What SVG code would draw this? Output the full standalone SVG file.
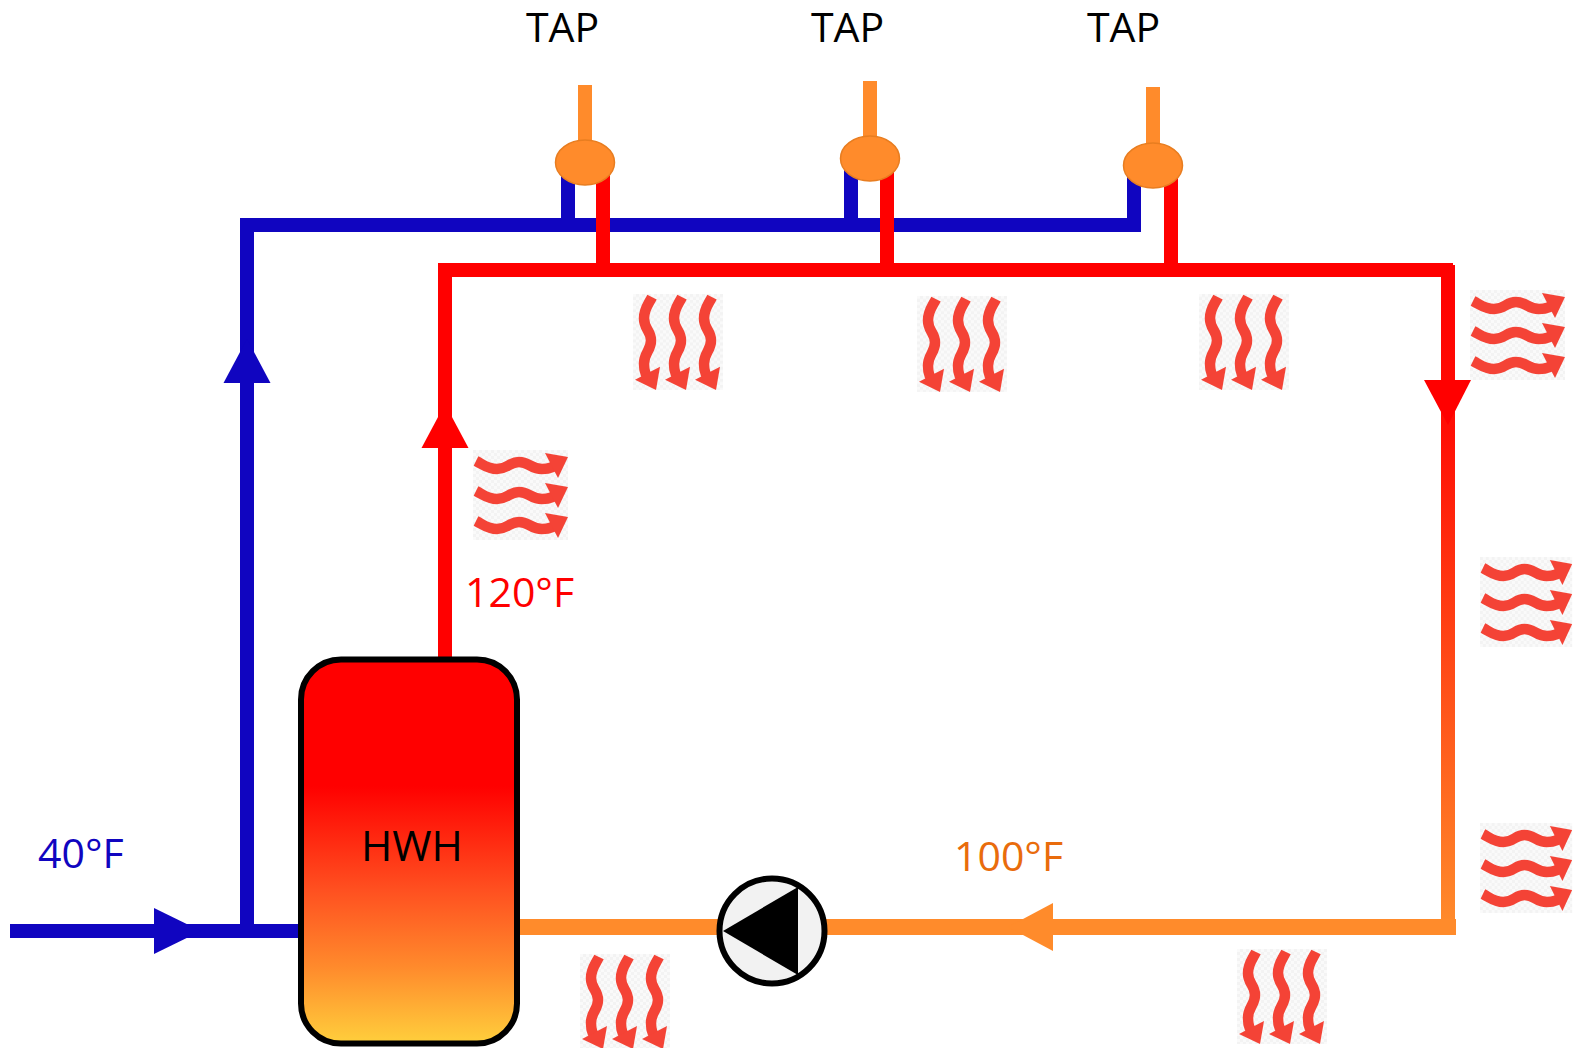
<svg xmlns="http://www.w3.org/2000/svg" width="1575" height="1048" viewBox="0 0 1575 1048">
<style>
text{font-family:"Open Sans","Noto Sans","Liberation Sans",sans-serif;font-size:41px}
.pipe{fill:none;stroke-width:14}
.blue{stroke:#1005c0}.red{stroke:#ff0000}.orange{stroke:#ff8b2b}
.valve{fill:#ff8b2b;stroke:#e87d20;stroke-width:1.5}
.bg{fill:url(#chk)}
.wave{fill:none;stroke:#f44336;stroke-width:10.500}
.head{fill:#f44336}
</style>
<defs>
<linearGradient id="tank" x1="0" y1="0" x2="0" y2="1">
<stop offset="0" stop-color="#ff0000"/><stop offset=".33" stop-color="#ff0000"/><stop offset=".6" stop-color="#ff5020"/><stop offset=".8" stop-color="#ff8a2c"/><stop offset="1" stop-color="#ffcf3c"/>
</linearGradient>
<linearGradient id="riser" gradientUnits="userSpaceOnUse" x1="0" y1="265" x2="0" y2="925">
<stop offset="0" stop-color="#ff0000"/><stop offset=".25" stop-color="#ff0f05"/><stop offset="1" stop-color="#ff8b2b"/>
</linearGradient>
<pattern id="chk" width="6" height="6" patternUnits="userSpaceOnUse">
<rect width="6" height="6" fill="#fafafa"/><rect width="3" height="3" fill="#f3f3f3"/><rect x="3" y="3" width="3" height="3" fill="#f3f3f3"/>
</pattern>
<g id="r"><path class="wave" d="M3 11C11 15 15 19 24 19C35 19 36 12 46 12C56 12 58 19 69 19C76 19 81 18 84 13"/><path class="head" d="M72 3L95 7L85 28Z"/></g>
<g id="heat"><rect class="bg" width="95" height="90"/><use href="#r"/><use href="#r" y="30"/><use href="#r" y="60"/></g>
</defs>

<g id="connectors">
<path class="pipe blue" d="M10 931H300"/>
<path class="pipe blue" d="M247 931V225H1134V175"/>
<path class="pipe blue" d="M568 225V175M851 225V170"/>
<path class="pipe red" d="M445 660V270H1453"/>
<path class="pipe red" d="M603 270V175M887 270V170M1171 270V178"/>
<path d="M1441 265H1455V925H1441Z" fill="url(#riser)"/>
<path d="M519 919H1456V935H519Z" fill="#ff8b2b"/>
<path class="pipe orange" d="M585 85V145M870 81V140M1153 87V148"/>
<path d="M247 339L270.500 383H223.500Z" fill="#1005c0"/>
<path d="M201 931L154 908V954Z" fill="#1005c0"/>
<path d="M445 404L468.500 448H421.500Z" fill="#ff0000"/>
<path d="M1448 425L1424 380H1471Z" fill="#ff0000"/>
<path d="M1008 927L1053 903V951Z" fill="#ff8b2b"/>
</g>

<g id="tap1"><ellipse class="valve" cx="585" cy="162.500" rx="29.500" ry="22.500"/><text x="526" y="41.500">TAP</text></g>
<g id="tap2"><ellipse class="valve" cx="870" cy="158.500" rx="29.500" ry="22.500"/><text x="811" y="41.500">TAP</text></g>
<g id="tap3"><ellipse class="valve" cx="1153" cy="165.500" rx="29.500" ry="22.500"/><text x="1087" y="41.500">TAP</text></g>

<g id="heater"><rect x="301" y="659.500" width="216" height="384" rx="40" fill="url(#tank)" stroke="#000" stroke-width="6"/><text x="361" y="860.500" style="font-size:42.500px">HWH</text></g>
<g id="pump"><circle cx="772" cy="931" r="52.500" fill="#f2f2f2" stroke="#000" stroke-width="6"/><path d="M723 931L798 887V975Z" fill="#000"/></g>

<g id="label-40"><text x="38" y="868" fill="#1005c0">40°F</text></g>
<g id="label-120"><text x="465" y="607" fill="#ff0000">120°F</text></g>
<g id="label-100"><text x="954" y="871" fill="#e96c0c">100°F</text></g>

<g id="heat-1"><use href="#heat" transform="translate(723 294) rotate(90) scale(1.01 1)"/></g>
<g id="heat-2"><use href="#heat" transform="translate(1007 296) rotate(90) scale(1.01 1)"/></g>
<g id="heat-3"><use href="#heat" transform="translate(1289 294) rotate(90) scale(1.01 1)"/></g>
<g id="heat-4"><use href="#heat" transform="translate(670 954) rotate(90)"/></g>
<g id="heat-5"><use href="#heat" transform="translate(1327 949) rotate(90)"/></g>
<g id="heat-6"><use href="#heat" transform="translate(473 450)"/></g>
<g id="heat-7"><use href="#heat" transform="translate(1470 290)"/></g>
<g id="heat-8"><use href="#heat" transform="translate(1480 557) scale(.97 1)"/></g>
<g id="heat-9"><use href="#heat" transform="translate(1480 823) scale(.97 1)"/></g>
</svg>
